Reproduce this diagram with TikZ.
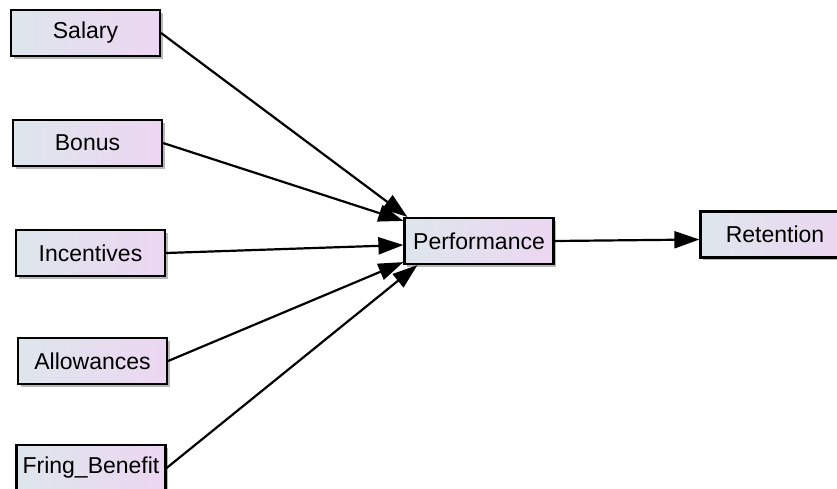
\documentclass[tikz,border=0pt]{standalone}
\usepackage{fontspec}
\setmainfont{Liberation Sans}
\usetikzlibrary{arrows.meta,shadows}
\definecolor{boxl}{RGB}{222,230,236}
\definecolor{boxr}{RGB}{236,214,242}
\tikzset{
  var/.style={draw=black, line width=2.2pt, minimum width=149pt, minimum height=46pt,
    inner sep=0pt, left color=boxl, right color=boxr,
    drop shadow={shadow xshift=2.5pt, shadow yshift=-2.5pt, fill=gray!70, opacity=0.8},
    font=\fontsize{23}{27}\selectfont},
  path/.style={line width=2.2pt, -{Triangle[length=25pt,width=17pt]}}
}
\begin{document}
\begin{tikzpicture}[x=1pt,y=-1pt]
\useasboundingbox (0,0) rectangle (837,488);
\clip (0,0) rectangle (837,488);
\node[var] (sal) at (85.5,33) {Salary};
\node[var] (bon) at (87.5,143) {Bonus};
\node[var] (inc) at (90.5,253) {Incentives};
\node[var] (all) at (92.5,361) {Allowances};
\node[var] (fri) at (91,468) {Fring\_Benefit};
\node[var] (per) at (479,241) {Performance};
\node[var] (ret) at (775,234.5) {Retention};
\draw[path] (sal.east) -- ([xshift=4pt]per.north west);
\draw[path] (bon.east) -- ([yshift=-4pt]per.north west);
\draw[path] (inc.east) -- ([yshift=-4pt]per.west);
\draw[path] (all.east) -- ([yshift=3pt]per.south west);
\draw[path] (fri.east) -- ([xshift=14pt]per.south west);
\draw[path] (per.east) -- ([yshift=-5pt]ret.west);
\end{tikzpicture}
\end{document}
